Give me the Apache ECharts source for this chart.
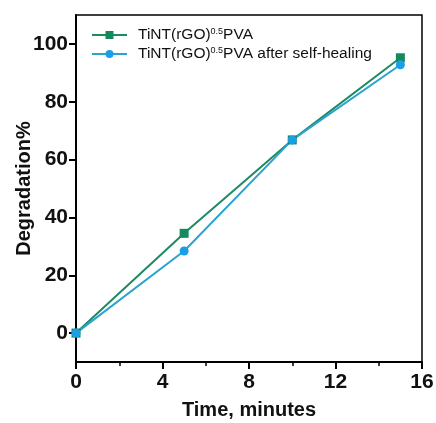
<!DOCTYPE html>
<html><head><meta charset="utf-8">
<script src="https://cdn.jsdelivr.net/npm/echarts@6/dist/echarts.min.js"></script>
<style>html,body{margin:0;padding:0;background:#fff}#c{width:436px;height:423px}</style>
</head><body><div id="c"></div>
<script>
const times = [0, 5, 10, 15];
const pristine = [0, 34.5, 66.8, 95.2];
const healed = [0, 28.4, 66.8, 92.8];
const seriesNames = ['TiNT(rGO)0.5PVA', 'TiNT(rGO)0.5PVA after self-healing'];
const xTicks = [0, 4, 8, 12, 16];
const yTicks = [0, 20, 40, 60, 80, 100];

const chart = echarts.init(document.getElementById('c'), null, {renderer: 'canvas'});
const font = 'Liberation Sans, Arial, sans-serif';
chart.setOption({
  animation: false,
  grid: {left: 76, top: 15, right: 14, bottom: 61, show: true, borderColor: '#000', borderWidth: 1.5,
    backgroundColor: 'transparent', containLabel: false, outerBoundsMode: 'none'},
  legend: {
    left: 86, top: 22, orient: 'vertical', itemGap: 3, itemWidth: 35, itemHeight: 10,
    data: seriesNames,
    formatter: function (n) {
      return n.replace('0.5', '{s|0.5}');
    },
    textStyle: {fontFamily: font, fontSize: 15.5, color: '#111', padding: [0, 0, 0, 6],
      rich: {s: {fontSize: 9, verticalAlign: 'top', padding: [0, 0, 7, 0], fontFamily: font, color: '#111'}}}
  },
  xAxis: {
    type: 'value', min: 0, max: 16, interval: 4,
    name: 'Time, minutes', nameLocation: 'middle', nameGap: 38, nameMoveOverlap: false,
    nameTextStyle: {fontFamily: font, fontSize: 20, color: '#111', fontWeight: 'bold'},
    axisLine: {onZero: false, lineStyle: {color: '#000', width: 2}},
    axisTick: {show: true, inside: false, length: 7, lineStyle: {color: '#000', width: 2}},
    minorTick: {show: true, splitNumber: 2, length: 4, lineStyle: {color: '#000', width: 1.5}},
    axisLabel: {fontFamily: font, fontSize: 21, color: '#111', margin: 10, fontWeight: 'bold'},
    splitLine: {show: false}
  },
  yAxis: {
    type: 'value', min: -10, max: 110, interval: 10,
    name: 'Degradation%', nameLocation: 'middle', nameGap: 42, nameMoveOverlap: false,
    nameTextStyle: {fontFamily: font, fontSize: 20, color: '#111', fontWeight: 'bold'},
    axisLine: {onZero: false, lineStyle: {color: '#000', width: 2}},
    axisTick: {show: true, inside: false, length: 7, lineStyle: {color: '#000', width: 2},
      customValues: yTicks},
    axisLabel: {fontFamily: font, fontSize: 21, color: '#111', margin: 8, fontWeight: 'bold',
      customValues: yTicks},
    splitLine: {show: false}
  },
  series: [
    {name: seriesNames[0], type: 'line', data: times.map((t, i) => [t, pristine[i]]),
      symbol: 'rect', symbolSize: 9, color: '#138a5c',
      lineStyle: {color: '#1d8a62', width: 2}, itemStyle: {color: '#138a5c'}},
    {name: seriesNames[1], type: 'line', data: times.map((t, i) => [t, healed[i]]),
      symbol: 'circle', symbolSize: 9, color: '#1a9ee6',
      lineStyle: {color: '#2aa3cf', width: 2}, itemStyle: {color: '#1a9ee6'}}
  ]
});
</script></body></html>
